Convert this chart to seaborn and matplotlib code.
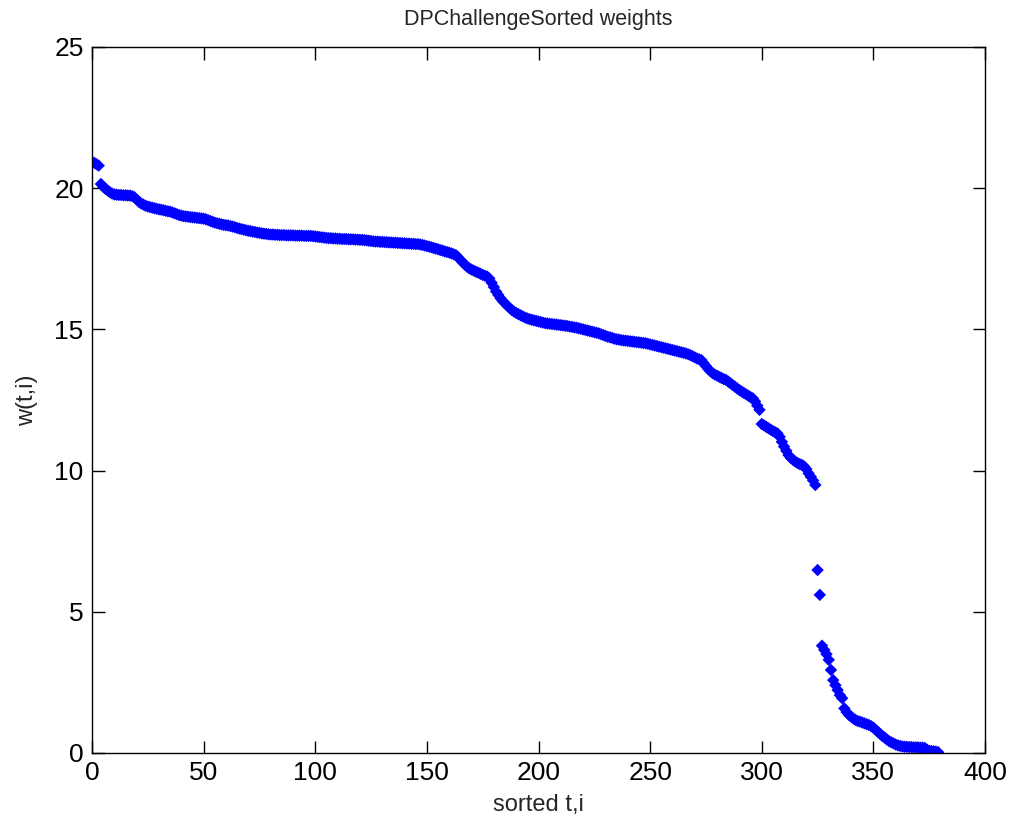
import matplotlib
matplotlib.use("Agg")
import matplotlib.pyplot as plt
import seaborn as sns
import numpy as np
import pandas as pd

title = "DPChallengeSorted weights"
xlabel = "sorted t,i"
ylabel = "w(t,i)"
xticks = [0, 50, 100, 150, 200, 250, 300, 350, 400]
yticks = [0, 5, 10, 15, 20, 25]

weights = [
    20.90, 20.85, 20.80, 20.15, 20.05, 19.98, 19.92, 19.86, 19.81, 19.78,
    19.77, 19.76, 19.76, 19.75, 19.75, 19.74, 19.74, 19.72, 19.68, 19.60,
    19.52, 19.46, 19.42, 19.38, 19.35, 19.33, 19.31, 19.29, 19.27, 19.25,
    19.24, 19.22, 19.20, 19.18, 19.17, 19.14, 19.11, 19.08, 19.05, 19.03,
    19.01, 19.00, 18.99, 18.98, 18.97, 18.96, 18.95, 18.94, 18.93, 18.92,
    18.90, 18.87, 18.84, 18.81, 18.78, 18.76, 18.74, 18.72, 18.70, 18.69,
    18.68, 18.66, 18.64, 18.62, 18.59, 18.57, 18.55, 18.53, 18.51, 18.49,
    18.48, 18.46, 18.45, 18.43, 18.42, 18.40, 18.39, 18.38, 18.37, 18.36,
    18.36, 18.35, 18.35, 18.34, 18.34, 18.34, 18.33, 18.33, 18.33, 18.33,
    18.32, 18.32, 18.32, 18.32, 18.31, 18.31, 18.31, 18.31, 18.30, 18.29,
    18.28, 18.27, 18.26, 18.25, 18.24, 18.23, 18.23, 18.22, 18.22, 18.21,
    18.21, 18.20, 18.20, 18.20, 18.19, 18.19, 18.19, 18.18, 18.18, 18.17,
    18.17, 18.16, 18.15, 18.14, 18.13, 18.12, 18.11, 18.11, 18.10, 18.10,
    18.09, 18.09, 18.08, 18.08, 18.07, 18.07, 18.06, 18.06, 18.05, 18.05,
    18.04, 18.04, 18.03, 18.03, 18.02, 18.02, 18.01, 17.99, 17.97, 17.95,
    17.93, 17.91, 17.88, 17.86, 17.84, 17.81, 17.79, 17.76, 17.74, 17.72,
    17.69, 17.66, 17.63, 17.55, 17.46, 17.38, 17.30, 17.22, 17.16, 17.12,
    17.08, 17.04, 17.01, 16.97, 16.93, 16.90, 16.87, 16.80, 16.65, 16.50,
    16.34, 16.22, 16.10, 16.00, 15.92, 15.84, 15.76, 15.69, 15.63, 15.58,
    15.54, 15.50, 15.46, 15.42, 15.39, 15.36, 15.34, 15.32, 15.30, 15.28,
    15.26, 15.24, 15.22, 15.21, 15.20, 15.19, 15.18, 15.17, 15.16, 15.15,
    15.14, 15.13, 15.12, 15.10, 15.09, 15.07, 15.06, 15.04, 15.02, 15.00,
    14.98, 14.96, 14.94, 14.92, 14.90, 14.88, 14.86, 14.83, 14.80, 14.77,
    14.74, 14.72, 14.70, 14.67, 14.65, 14.64, 14.62, 14.61, 14.60, 14.59,
    14.58, 14.57, 14.56, 14.55, 14.54, 14.53, 14.52, 14.51, 14.49, 14.47,
    14.45, 14.43, 14.41, 14.39, 14.37, 14.35, 14.33, 14.31, 14.29, 14.27,
    14.25, 14.23, 14.21, 14.19, 14.17, 14.15, 14.12, 14.09, 14.05, 14.01,
    13.97, 13.94, 13.91, 13.80, 13.70, 13.60, 13.52, 13.45, 13.40, 13.36,
    13.32, 13.28, 13.24, 13.21, 13.15, 13.09, 13.03, 12.97, 12.91, 12.85,
    12.80, 12.75, 12.70, 12.65, 12.60, 12.56, 12.45, 12.30, 12.15, 11.65,
    11.60, 11.55, 11.50, 11.45, 11.40, 11.36, 11.32, 11.20, 11.02, 10.85,
    10.70, 10.55, 10.45, 10.38, 10.32, 10.27, 10.23, 10.20, 10.15, 10.05,
    9.90, 9.78, 9.65, 9.49, 6.48, 5.60, 3.80, 3.65, 3.50, 3.30,
    2.94, 2.58, 2.40, 2.23, 2.05, 1.94, 1.58, 1.45, 1.35, 1.29,
    1.22, 1.17, 1.13, 1.11, 1.08, 1.05, 1.02, 0.99, 0.95, 0.90,
    0.82, 0.75, 0.68, 0.60, 0.55, 0.48, 0.42, 0.38, 0.34, 0.30,
    0.27, 0.25, 0.23, 0.22, 0.22, 0.21, 0.21, 0.20, 0.20, 0.20,
    0.19, 0.19, 0.18, 0.12, 0.08, 0.07, 0.06, 0.05, 0.03,
]

df = pd.DataFrame({"idx": np.arange(1, len(weights) + 1), "w": weights})

sns.set_style("ticks")
plt.rcParams["font.family"] = ["Liberation Sans", "DejaVu Sans"]

fig = plt.figure(figsize=(10.10, 8.27), dpi=100)
ax = fig.add_axes([92 / 1010, 1 - 753 / 827, (985 - 92) / 1010, (753 - 47) / 827])

sns.scatterplot(data=df, x="idx", y="w", ax=ax, marker="D", s=40,
                color="#0000ff", edgecolor="none", linewidth=0, legend=False)

ax.set_xlim(0, 400)
ax.set_ylim(0, 25)
ax.set_xticks(xticks)
ax.set_yticks(yticks)
ax.tick_params(direction="in", length=9, width=1, top=True, right=True,
               labelsize=19, colors="#000000", pad=6)
for sp in ax.spines.values():
    sp.set_visible(True)
    sp.set_linewidth(1.0)
    sp.set_color("#000000")

ax.set_title(title, fontsize=15.5, pad=16)
ax.set_xlabel(xlabel, fontsize=17, labelpad=6)
ax.set_ylabel(ylabel, fontsize=17, labelpad=12)

fig.savefig("out.png", dpi=100, facecolor="white")
